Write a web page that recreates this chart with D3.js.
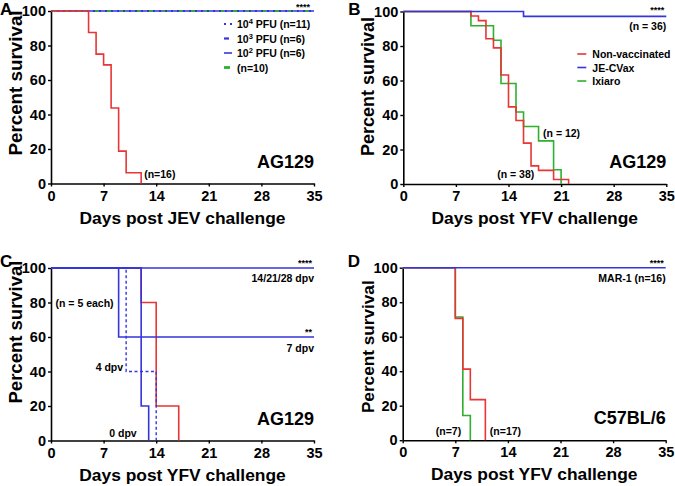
<!DOCTYPE html>
<html>
<head>
<meta charset="utf-8">
<script src="https://cdn.jsdelivr.net/npm/d3@7"></script>
<style>
  body { margin: 0; background: #fff; }
  svg { font-family: "Liberation Sans", Arial, sans-serif; font-weight: bold; }
</style>
</head>
<body>
<svg id="chart" width="675" height="486"></svg>
<script>
// ticks shared by all panels
var dayTicks = [0, 7, 14, 21, 28, 35];
var percentTicks = [0, 20, 40, 60, 80, 100];

// A: JEV challenge
var jevControlDays = [0, 5, 6, 7, 8, 9, 10, 12];
var jevControlSurv = [100, 87.5, 75, 68.75, 43.75, 18.75, 6.25, 0];
var jevVaxDays = [0, 35];
var jevVaxSurv = [100, 100];
var jevLegend = ['10^4 PFU (n=11)', '10^3 PFU (n=6)', '10^2 PFU (n=6)', '(n=10)'];

// B: YFV challenge, AG129
var yfvNonVaxDays = [0, 9, 10, 11, 12, 13, 14, 15, 16, 17, 18, 20, 22];
var yfvNonVaxSurv = [100, 97.4, 94.7, 84.2, 78.9, 63.2, 44.7, 36.8, 23.7, 10.5, 7.9, 2.6, 0];
var yfvJeCvaxDays = [0, 16, 35];
var yfvJeCvaxSurv = [100, 97.2, 97.2];
var yfvIxiaroDays = [0, 9, 12, 13, 15, 16, 18, 20, 21];
var yfvIxiaroSurv = [100, 91.7, 83.3, 58.3, 41.7, 33.3, 25, 8.3, 0];
var yfvLegend = ['Non-vaccinated', 'JE-CVax', 'Ixiaro'];

// C: time after vaccination
var dpvControlDays = [0, 12, 14, 17];
var dpvControlSurv = [100, 80, 20, 0];
var dpv0Days = [0, 12, 13];
var dpv0Surv = [100, 20, 0];
var dpv4Days = [0, 10, 14];
var dpv4Surv = [100, 40, 0];
var dpv7Days = [0, 9, 35];
var dpv7Surv = [100, 60, 60];
var dpv14Days = [0, 35];
var dpv14Surv = [100, 100];

// D: C57BL/6 + MAR-1
var b6ControlDays = [0, 7, 8, 9, 11];
var b6ControlSurv = [100, 70.6, 41.2, 23.5, 0];
var b6VaxDays = [0, 7, 8, 9];
var b6VaxSurv = [100, 71.4, 14.3, 0];
var b6Mar1Days = [0, 35];
var b6Mar1Surv = [100, 100];

var RED = '#e83535', BLUE = '#3535dc', GREEN = '#2fb02f';

var svg = d3.select('#chart');
var W = 263, H = 172.5;

function zip(days, surv){
  return days.map(function(d, i){ return [d, surv[i]]; });
}

// o: letter offset / y-title placement for each panel
function panel(left, top, letter, xTitle, strain, o){
  var g = svg.append('g').attr('transform', 'translate(' + left + ',' + top + ')');
  var x = d3.scaleLinear().domain([0, 35]).range([0, W]);
  var y = d3.scaleLinear().domain([0, 100]).range([H, 0]);

  var xa = g.append('g').attr('transform', 'translate(0,' + H + ')')
    .call(d3.axisBottom(x).tickValues(dayTicks).tickSize(3).tickSizeOuter(0).tickPadding(4));
  var ya = g.append('g')
    .call(d3.axisLeft(y).tickValues(percentTicks).tickSize(3).tickSizeOuter(0).tickPadding(2));
  [xa, ya].forEach(function(a){
    a.select('.domain').attr('stroke-width', 1.6);
    a.selectAll('.tick line').attr('stroke-width', 1.4);
    a.selectAll('text').attr('font-size', 14.5).attr('font-weight', 'bold')
      .attr('font-family', '"Liberation Sans", Arial, sans-serif').attr('fill', '#000');
  });

  g.append('text').attr('x', W / 2).attr('y', H + 40).attr('text-anchor', 'middle')
    .attr('font-size', 17.4).text(xTitle);
  g.append('text').attr('transform', 'translate(-29,' + o.titleY + ') rotate(-90)')
    .attr('text-anchor', 'middle').attr('font-size', o.titleSize).text('Percent survival');
  g.append('text').attr('x', o.lx).attr('y', o.ly).attr('font-size', 17).text(letter);
  g.append('text').attr('x', W).attr('y', H - 16).attr('text-anchor', 'end')
    .attr('font-size', 18).text(strain);

  var line = d3.line().x(function(d){ return x(d[0]); }).y(function(d){ return y(d[1]); })
    .curve(d3.curveStepAfter);

  return {
    g: g, x: x, y: y,
    curve: function(days, surv, color, dash, width){
      g.append('path').datum(zip(days, surv)).attr('d', line)
        .attr('fill', 'none').attr('stroke', color).attr('stroke-width', width || 1.6)
        .attr('stroke-dasharray', dash || null);
    },
    label: function(t, day, pct, dy, anchor, size){
      return g.append('text').attr('x', x(day)).attr('y', y(pct) + dy)
        .attr('text-anchor', anchor || 'start').attr('font-size', size || 10.5).text(t);
    }
  };
}

// ---- Panel A
var pA = panel(51, 11, 'A', 'Days post JEV challenge', 'AG129',
  {titleY: 72, titleSize: 18.8, lx: -51, ly: 4});
pA.curve(jevVaxDays, jevVaxSurv, BLUE, null, 1.6);
pA.curve(jevVaxDays, jevVaxSurv, GREEN, '5,9', 2.2);
pA.curve(jevVaxDays, jevVaxSurv, BLUE, '2,4', 1.8);
pA.curve(jevControlDays, jevControlSurv, RED);
pA.label('****', 35, 100, -1, 'end', 9).attr('x', pA.x(35) - 4);
pA.label('(n=16)', 12.4, 0, -6);

var legA = pA.g.append('g').attr('transform', 'translate(173,13)');
var legStyles = [
  {color: BLUE, dash: '2,4', w: 2},
  {color: BLUE, dash: '5,20', w: 2.2},
  {color: BLUE, dash: null, w: 1.6},
  {color: GREEN, dash: '6,20', w: 2.8}
];
jevLegend.forEach(function(t, i){
  var row = legA.append('g').attr('transform', 'translate(0,' + (i * 14.5) + ')');
  var st = legStyles[i];
  row.append('line').attr('x1', 0).attr('x2', st.dash ? 9 : 8).attr('y1', 0).attr('y2', 0)
    .attr('stroke', st.color).attr('stroke-width', st.w).attr('stroke-dasharray', st.dash);
  var tx = row.append('text').attr('x', 13).attr('y', 4).attr('font-size', 10.5);
  var m = t.match(/^10\^(\d) (.*)$/);
  if (m){
    tx.append('tspan').text('10');
    tx.append('tspan').attr('font-size', 7.5).attr('dy', -4).text(m[1]);
    tx.append('tspan').attr('dy', 4).text(' ' + m[2]);
  } else {
    tx.text(t);
  }
});

// ---- Panel B
var pB = panel(403.3, 11.5, 'B', 'Days post YFV challenge', 'AG129',
  {titleY: 75, titleSize: 18, lx: -55, ly: 3.5});
pB.curve(yfvIxiaroDays, yfvIxiaroSurv, GREEN);
pB.curve(yfvNonVaxDays, yfvNonVaxSurv, RED);
pB.curve(yfvJeCvaxDays, yfvJeCvaxSurv, BLUE);
pB.label('****', 35, 100, 1, 'end', 9).attr('x', pB.x(35) - 2);
pB.label('(n = 36)', 35, 97.2, 14, 'end');
pB.label('(n = 12)', 18.6, 33.3, 10);
pB.label('(n = 38)', 12.5, 0, -6);
var legB = pB.g.append('g').attr('transform', 'translate(174,42.5)');
[RED, BLUE, GREEN].forEach(function(c, i){
  var row = legB.append('g').attr('transform', 'translate(0,' + (i * 13.5) + ')');
  row.append('line').attr('x1', 0).attr('x2', 9).attr('stroke', c).attr('stroke-width', 1.6);
  row.append('text').attr('x', 15).attr('y', 4).attr('font-size', 10.5).text(yfvLegend[i]);
});

// ---- Panel C
var pC = panel(51, 268, 'C', 'Days post YFV challenge', 'AG129',
  {titleY: 64, titleSize: 18.5, lx: -51, ly: -1});
pC.curve(dpvControlDays, dpvControlSurv, RED);
pC.curve(dpv14Days, dpv14Surv, BLUE);
pC.curve(dpv7Days, dpv7Surv, BLUE);
pC.curve(dpv0Days, dpv0Surv, BLUE);
pC.curve(dpv4Days, dpv4Surv, BLUE, '3,2.5', 1.4);
pC.label('****', 35, 100, -2, 'end', 9).attr('x', pC.x(35) - 2);
pC.label('14/21/28 dpv', 35, 100, 14, 'end');
pC.label('**', 35, 60, -2, 'end', 9).attr('x', pC.x(35) - 2);
pC.label('7 dpv', 35, 60, 15, 'end');
pC.label('(n = 5 each)', 0.6, 80, 4);
pC.label('4 dpv', 9.6, 40, -1, 'end');
pC.label('0 dpv', 11.4, 0, -4, 'end');

// ---- Panel D
var pD = panel(402.7, 267.7, 'D', 'Days post YFV challenge', 'C57BL/6',
  {titleY: 79, titleSize: 17.2, lx: -55, ly: -0.7});
pD.curve(b6VaxDays, b6VaxSurv, GREEN);
pD.curve(b6ControlDays, b6ControlSurv, RED);
pD.curve(b6Mar1Days, b6Mar1Surv, BLUE);
pD.label('****', 35, 100, -2, 'end', 9).attr('x', pD.x(35) - 2);
pD.label('MAR-1 (n=16)', 35, 100, 14, 'end');
pD.label('(n=7)', 4.4, 0, -5);
pD.label('(n=17)', 11.6, 0, -5);
</script>
</body>
</html>
